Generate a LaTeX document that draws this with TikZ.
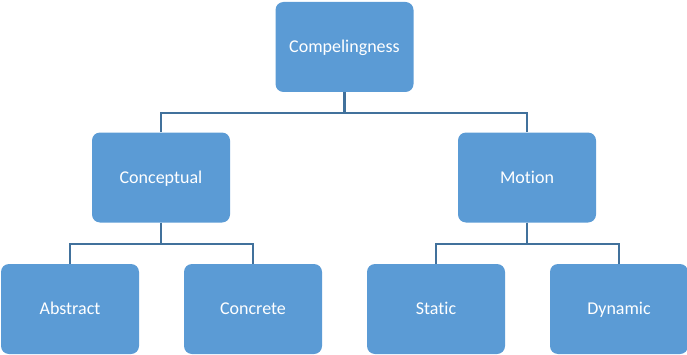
\documentclass[tikz,border=0pt]{standalone}
\usepackage{fontspec}
\setmainfont{Carlito}[Ligatures={NoCommon}]
\definecolor{boxfill}{HTML}{5B9BD5}
\definecolor{linecol}{HTML}{41719C}
\begin{document}
\begin{tikzpicture}[x=1pt,y=1pt,
  box/.style={fill=boxfill, draw=none, rounded corners=8pt, minimum width=138pt, minimum height=90pt, text=white, font=\fontsize{18}{21}\selectfont, inner sep=0pt, text height=1.32em, text depth=0.22em},
  conn/.style={draw=linecol, line width=2.2pt}]
\useasboundingbox (0,0) rectangle (687,354);
\node[box] (top) at (344.5,307) {Compelingness};
\node[box] (concept) at (161,176.5) {Conceptual};
\node[box] (motion) at (527,176.5) {Motion};
\node[box] (abs) at (70,45) {Abstract};
\node[box] (conc) at (253,45) {Concrete};
\node[box] (stat) at (436,45) {Static};
\node[box] (dyn) at (619,45) {Dynamic};
\draw[conn] (top.south) |- (161,241) -- (concept.north);
\draw[conn] (top.south) |- (527,241) -- (motion.north);
\draw[conn] (concept.south) |- (70,110) -- (abs.north);
\draw[conn] (concept.south) |- (253,110) -- (conc.north);
\draw[conn] (motion.south) |- (436,110) -- (stat.north);
\draw[conn] (motion.south) |- (619,110) -- (dyn.north);
\end{tikzpicture}
\end{document}
